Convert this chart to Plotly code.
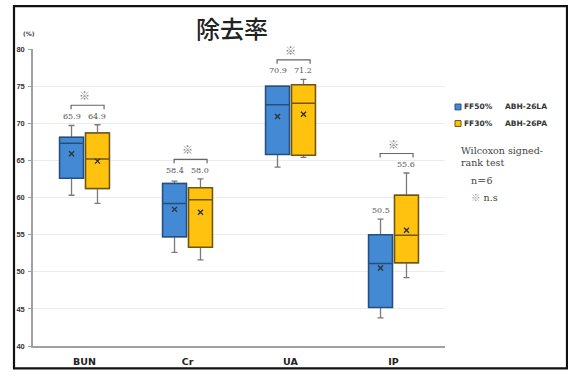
import plotly.graph_objects as go

# ---- data -------------------------------------------------------------
categories = ["BUN", "Cr", "UA", "IP"]
series_names = ["FF50%", "FF30%"]
dialyzers = ["ABH-26LA", "ABH-26PA"]

# FF50% ABH-26LA
la_low = [60.3, 52.6, 64.1, 43.8]
la_q1 = [62.6, 54.7, 65.8, 45.2]
la_med = [67.3, 59.2, 72.5, 51.1]
la_q3 = [68.1, 61.9, 75.0, 55.0]
la_high = [69.7, 62.2, 75.0, 57.1]
la_mean = [65.9, 58.4, 70.9, 50.5]

# FF30% ABH-26PA
pa_low = [59.2, 51.6, 65.4, 49.2]
pa_q1 = [61.2, 53.3, 65.7, 51.2]
pa_med = [65.2, 59.7, 72.7, 54.9]
pa_q3 = [68.7, 61.3, 75.2, 60.3]
pa_high = [69.8, 62.5, 75.9, 63.3]
pa_mean = [64.9, 58.0, 71.2, 55.6]

y_ticks = [40, 45, 50, 55, 60, 65, 70, 75, 80]

# ---- geometry ---------------------------------------------------------
W_FIG, H_FIG = 568, 379
M_L, M_R, M_T, M_B = 33, 123, 49, 25
PLOT_W = W_FIG - M_L - M_R
PLOT_H = H_FIG - M_T - M_B
Y_MIN, Y_MAX = 40, 80
PX_PER_UNIT = PLOT_H / (Y_MAX - Y_MIN)


def px_x(px):
    return (px - M_L) / PLOT_W


def px_y(py):
    return (H_FIG - M_B - py) / PLOT_H


OFFSET = 0.126
BOX_W = 0.232
pos = list(range(len(categories)))
x_la = [p - OFFSET for p in pos]
x_pa = [p + OFFSET for p in pos]

BLUE, BLUE_EDGE = "#4389d3", "#24507f"
GOLD, GOLD_EDGE = "#ffc20e", "#6e5510"
WHISKER = "#7a7a7a"

fig = go.Figure()

groups = [
    (x_la, la_low, la_q1, la_med, la_q3, la_high, BLUE, BLUE_EDGE),
    (x_pa, pa_low, pa_q1, pa_med, pa_q3, pa_high, GOLD, GOLD_EDGE),
]

# whiskers (grey) underneath
for xs, lo, q1, md, q3, hi, fill, edge in groups:
    fig.add_trace(go.Box(
        x=xs, lowerfence=lo, q1=q1, median=md, q3=q3, upperfence=hi,
        width=BOX_W, whiskerwidth=0.25, fillcolor="rgba(0,0,0,0)",
        line=dict(color=WHISKER, width=1.3), boxpoints=False,
        showlegend=False, hoverinfo="skip",
    ))

# filled boxes on top
for xs, lo, q1, md, q3, hi, fill, edge in groups:
    fig.add_trace(go.Box(
        x=xs, lowerfence=q1, q1=q1, median=md, q3=q3, upperfence=q3,
        width=BOX_W, whiskerwidth=0, fillcolor=fill,
        line=dict(color=edge, width=1.5), boxpoints=False,
        showlegend=False, hoverinfo="skip",
    ))

# mean markers
for xs, means in [(x_la, la_mean), (x_pa, pa_mean)]:
    fig.add_trace(go.Scatter(
        x=xs, y=means, mode="markers", showlegend=False, hoverinfo="skip",
        marker=dict(symbol="x-thin", size=5, line=dict(color="#333333", width=1.4)),
    ))

annotations = []
shapes = []

# mean value labels, brackets and ※ marks
for i, c in enumerate(pos):
    top = max(la_high[i], pa_high[i])
    if abs(la_high[i] - pa_high[i]) > 2:
        label_bases = [la_high[i], pa_high[i]]
    else:
        label_bases = [top, top]
    for xv, mv, base in [(x_la[i], la_mean[i], label_bases[0]),
                         (x_pa[i], pa_mean[i], label_bases[1])]:
        annotations.append(dict(
            x=xv, y=base, xref="x", yref="y", text=f"{mv:.1f}",
            showarrow=False, yanchor="bottom", yshift=2,
            font=dict(family="DejaVu Serif", size=8, color="#555555"),
        ))
    yb = top + 20 / PX_PER_UNIT
    tick = 4 / PX_PER_UNIT
    x0, x1 = c - 0.13, c + 0.19
    shapes.append(dict(
        type="path", xref="x", yref="y",
        path=f"M {x0} {yb - tick} L {x0} {yb} L {x1} {yb} L {x1} {yb - tick}",
        line=dict(color="#666666", width=1.2),
    ))
    annotations.append(dict(
        x=c, y=yb, xref="x", yref="y", text="※", showarrow=False,
        yanchor="middle", yshift=10,
        font=dict(family="Noto Sans CJK JP", size=11, color="#7a7a7a"),
    ))

# legend
leg_rows = [(108.5, BLUE, BLUE_EDGE), (125.5, GOLD, GOLD_EDGE)]
for (py, fill, edge), s, d in zip(leg_rows, series_names, dialyzers):
    shapes.append(dict(
        type="rect", xref="paper", yref="paper",
        x0=px_x(455), x1=px_x(461), y0=px_y(py + 3), y1=px_y(py - 3),
        fillcolor=fill, line=dict(color=edge, width=1),
    ))
    annotations.append(dict(
        x=px_x(462), y=px_y(py), xref="paper", yref="paper", text=s,
        showarrow=False, xanchor="left", yanchor="middle",
        font=dict(family="DejaVu Sans", size=7.5, color="#333333", weight="bold"),
    ))
    annotations.append(dict(
        x=px_x(503), y=px_y(py), xref="paper", yref="paper", text=d,
        showarrow=False, xanchor="left", yanchor="middle",
        font=dict(family="DejaVu Sans", size=7.5, color="#333333", weight="bold"),
    ))

notes = [
    (459, 153, "Wilcoxon signed-"),
    (459, 166, "rank test"),
    (469, 184, "n＝6"),
    (469, 201, "<span style='color:#999999'>※</span> n.s"),
]
for px, py, t in notes:
    annotations.append(dict(
        x=px_x(px), y=px_y(py), xref="paper", yref="paper", text=t,
        showarrow=False, xanchor="left", yanchor="middle",
        font=dict(family="DejaVu Serif, Noto Sans CJK JP", size=9.5, color="#444444"),
    ))

# title and unit label
annotations.append(dict(
    x=px_x(232), y=px_y(27), xref="paper", yref="paper", text="除去率",
    showarrow=False, xanchor="center", yanchor="middle",
    font=dict(family="Noto Sans CJK JP", size=24, color="#222222", weight=500),
))
annotations.append(dict(
    x=px_x(29), y=px_y(33), xref="paper", yref="paper", text="(%)",
    showarrow=False, xanchor="center", yanchor="middle",
    font=dict(family="DejaVu Sans", size=6, color="#444444", weight="bold"),
))

# outer frame
shapes.append(dict(
    type="rect", xref="paper", yref="paper",
    x0=px_x(14), x1=px_x(567), y0=px_y(377), y1=px_y(5),
    line=dict(color="#111111", width=2.2), fillcolor="rgba(0,0,0,0)", layer="above",
))

fig.update_layout(
    width=W_FIG, height=H_FIG,
    margin=dict(l=M_L, r=M_R, t=M_T, b=M_B, pad=0),
    paper_bgcolor="white", plot_bgcolor="white",
    showlegend=False, boxmode="overlay",
    annotations=annotations, shapes=shapes,
    xaxis=dict(
        range=[-0.5, len(categories) - 0.5], tickvals=pos, ticktext=categories,
        showgrid=False, zeroline=False, showline=True, linecolor="#a0a0a0", linewidth=1.5,
        ticks="", ticklabelstandoff=6,
        tickfont=dict(family="DejaVu Sans", size=9.5, color="#222222", weight="bold"),
    ),
    yaxis=dict(
        range=[Y_MIN, Y_MAX], tickvals=y_ticks, showgrid=True, gridcolor="#ececec", gridwidth=1,
        zeroline=False, showline=True, linecolor="#a0a0a0", linewidth=1.5,
        ticks="outside", ticklen=3, tickcolor="#a0a0a0", ticklabelstandoff=2,
        tickfont=dict(family="Liberation Sans", size=7.5, color="#333333", weight="bold"),
    ),
)

fig.write_html("out.html")
